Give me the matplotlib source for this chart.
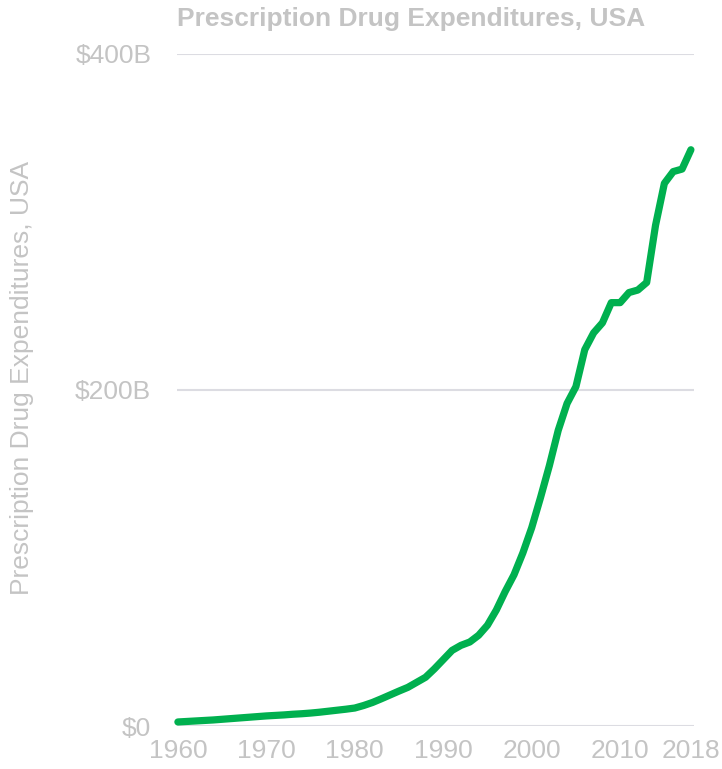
import matplotlib
matplotlib.use("Agg")
import matplotlib.pyplot as plt
from matplotlib.ticker import FuncFormatter

years = list(range(1960, 2019))
spend_b = [
    2.4, 2.7, 3.0, 3.3, 3.6, 4.0, 4.4, 4.8, 5.2, 5.6,
    6.0, 6.3, 6.6, 7.0, 7.3, 7.7, 8.2, 8.8, 9.4, 10.0,
    10.7, 12.2, 14.0, 16.2, 18.5, 20.8, 23.0, 26.0, 29.0, 34.0,
    39.5, 45.0, 48.0, 50.0, 54.0, 60.0, 69.0, 80.0, 90.0, 103.0,
    118.0, 136.0, 155.0, 176.0, 192.0, 202.0, 224.0, 234.0, 240.0, 252.0,
    252.0, 258.0, 259.5, 264.0, 298.0, 323.0, 330.0, 331.5, 343.0,
]
x_ticks = [1960, 1970, 1980, 1990, 2000, 2010, 2018]
y_ticks = [0, 200, 400]
title = "Prescription Drug Expenditures, USA"

plt.rcParams["font.family"] = ["Liberation Sans", "DejaVu Sans"]
gray = "#c4c4c4"
fig = plt.figure(figsize=(7.22, 7.69), dpi=100)
ax = fig.add_axes([177 / 722, 1 - 726 / 769, (694 - 177) / 722, (726 - 54) / 769])

ax.plot(years, spend_b, color="#00b04f", lw=5.2, solid_capstyle="round",
        solid_joinstyle="round", clip_on=False, zorder=3)

ax.set_xlim(1959.9, 2018.35)
ax.set_ylim(0, 400)
ax.set_xticks(x_ticks)
ax.set_yticks(y_ticks)
ax.yaxis.set_major_formatter(FuncFormatter(lambda v, p: "$0" if v == 0 else f"${int(v)}B"))
ax.grid(axis="y", color="#dcdce2", lw=1.5)
ax.set_axisbelow(True)
for s in ax.spines.values():
    s.set_visible(False)
ax.tick_params(length=0, labelsize=19, labelcolor=gray)
ax.tick_params(axis="x", pad=9)
ax.tick_params(axis="y", pad=18.5)

fig.text(22 / 722, 1 - 378 / 769, title, rotation=90, fontsize=19,
         color=gray, ha="center", va="center")
fig.text(177 / 722, 1 - 19 / 769, title, fontsize=19, fontweight="bold",
         color=gray, va="center", ha="left")

fig.savefig("out.png", dpi=100)
